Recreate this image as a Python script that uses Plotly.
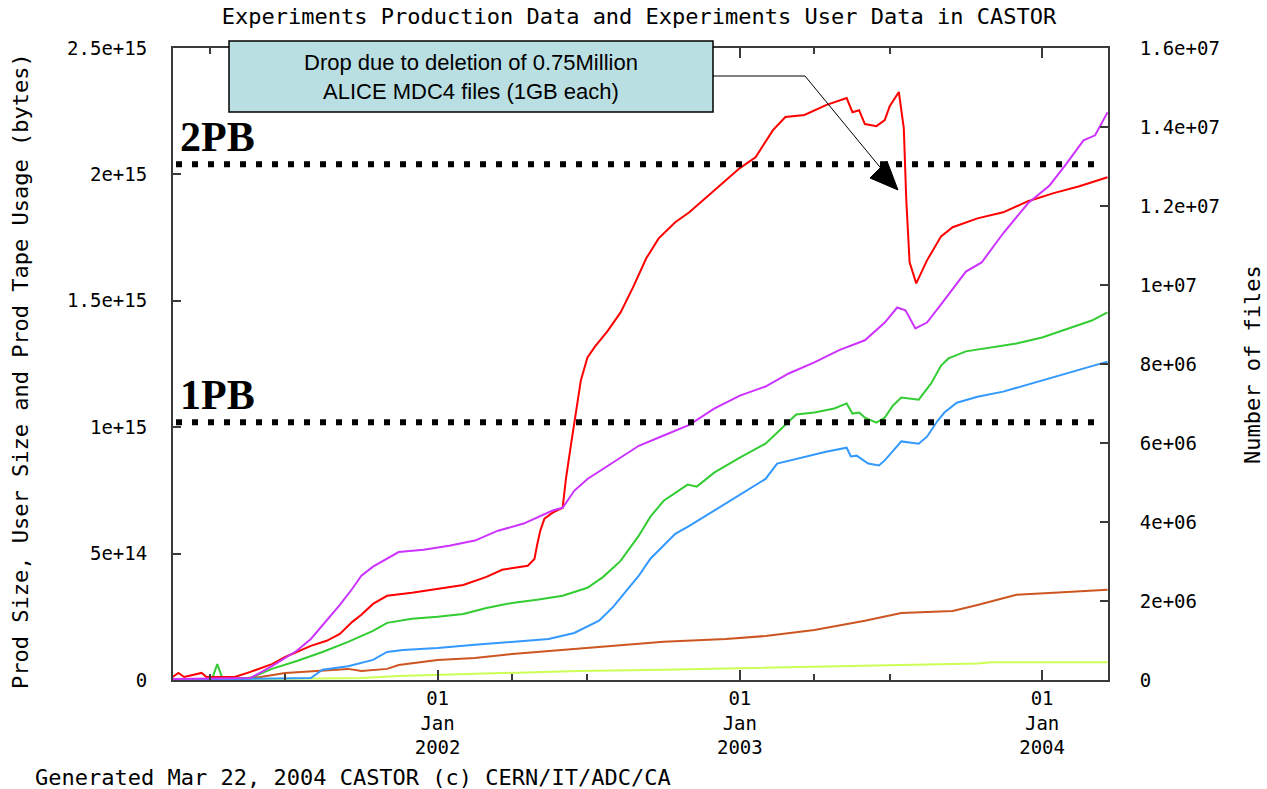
import plotly.graph_objects as go

# ---------------- data ----------------
# Left axis series (bytes)
red_dates = ["2001-02-15","2001-02-22","2001-03-01","2001-03-22","2001-03-28","2001-05-01","2001-05-20","2001-06-15",
             "2001-07-01","2001-07-15","2001-08-01","2001-08-20","2001-09-05","2001-09-20","2001-10-01","2001-10-15",
             "2001-11-01","2001-12-01","2002-01-01","2002-02-01","2002-03-01","2002-03-20","2002-04-20","2002-04-28",
             "2002-05-01","2002-05-05","2002-05-10","2002-05-20","2002-06-01","2002-06-05","2002-06-10","2002-06-14",
             "2002-06-19","2002-06-23","2002-07-01","2002-07-10","2002-07-25","2002-08-10","2002-08-25","2002-09-10",
             "2002-09-25","2002-10-15","2002-11-01","2002-12-01","2003-01-01","2003-01-20","2003-02-10","2003-02-25",
             "2003-03-20","2003-04-15","2003-05-10","2003-05-17","2003-05-25","2003-06-01","2003-06-15","2003-06-25",
             "2003-07-01","2003-07-12","2003-07-18","2003-07-21","2003-07-25","2003-08-02","2003-08-15","2003-09-01",
             "2003-09-15","2003-10-15","2003-11-15","2003-12-15","2004-01-15","2004-02-15","2004-03-20"]
red_bytes = [0.12e14,0.28e14,0.12e14,0.28e14,0.12e14,0.12e14,0.32e14,0.63e14,
             0.91e14,1.11e14,1.35e14,1.55e14,1.82e14,2.30e14,2.58e14,3.01e14,
             3.33e14,3.45e14,3.61e14,3.76e14,4.08e14,4.36e14,4.52e14,4.79e14,
             5.31e14,5.90e14,6.38e14,6.62e14,6.81e14,7.96e14,9.07e14,9.94e14,
             11.17e14,11.85e14,12.76e14,13.19e14,13.79e14,14.54e14,15.53e14,16.68e14,
             17.47e14,18.11e14,18.50e14,19.37e14,20.25e14,20.68e14,21.75e14,22.27e14,
             22.35e14,22.74e14,23.02e14,22.46e14,22.54e14,21.99e14,21.91e14,22.15e14,
             22.70e14,23.26e14,21.83e14,18.98e14,16.52e14,15.69e14,16.60e14,17.55e14,
             17.91e14,18.26e14,18.50e14,18.94e14,19.26e14,19.53e14,19.89e14]

green_dates = ["2001-02-15","2001-03-25","2001-04-04","2001-04-10","2001-04-16","2001-05-20","2001-06-15","2001-07-15",
               "2001-08-15","2001-09-15","2001-10-15","2001-11-01","2001-12-01","2002-01-01","2002-02-01","2002-03-01",
               "2002-04-01","2002-05-01","2002-06-01","2002-07-01","2002-07-20","2002-08-10","2002-09-01","2002-09-15",
               "2002-10-01","2002-10-20","2002-10-30","2002-11-10","2002-12-01","2003-01-01","2003-02-01","2003-02-20",
               "2003-03-10","2003-04-01","2003-04-25","2003-05-10","2003-05-17","2003-05-25","2003-06-01","2003-06-15",
               "2003-06-25","2003-07-05","2003-07-15","2003-08-05","2003-08-20","2003-09-01","2003-09-10","2003-10-01",
               "2003-11-01","2003-12-01","2004-01-01","2004-02-01","2004-03-01","2004-03-20"]
green_bytes = [0.04e14,0.04e14,0.08e14,0.63e14,0.08e14,0.08e14,0.44e14,0.75e14,
               1.11e14,1.51e14,1.94e14,2.26e14,2.42e14,2.50e14,2.61e14,2.85e14,
               3.05e14,3.17e14,3.33e14,3.65e14,4.08e14,4.71e14,5.71e14,6.46e14,
               7.09e14,7.49e14,7.73e14,7.65e14,8.20e14,8.80e14,9.35e14,9.94e14,
               10.50e14,10.58e14,10.74e14,10.94e14,10.54e14,10.58e14,10.38e14,10.18e14,
               10.38e14,10.86e14,11.17e14,11.09e14,11.73e14,12.44e14,12.72e14,13.00e14,
               13.15e14,13.31e14,13.55e14,13.91e14,14.22e14,14.54e14]

brown_dates = ["2001-02-15","2001-05-01","2001-06-01","2001-07-01","2001-09-15","2001-10-01","2001-11-01","2001-11-15",
               "2002-01-01","2002-02-15","2002-04-01","2002-06-01","2002-08-01","2002-10-01","2002-12-15","2003-02-01",
               "2003-04-01","2003-06-01","2003-07-15","2003-09-15","2003-10-15","2003-12-01","2004-01-15","2004-03-20"]
brown_bytes = [0.0,0.04e14,0.12e14,0.28e14,0.44e14,0.36e14,0.44e14,0.59e14,
               0.79e14,0.87e14,1.03e14,1.19e14,1.35e14,1.51e14,1.62e14,1.74e14,
               1.98e14,2.34e14,2.65e14,2.73e14,2.97e14,3.37e14,3.45e14,3.57e14]

# Right axis series (number of files)
magenta_dates = ["2001-02-15","2001-05-20","2001-06-15","2001-07-15","2001-08-01","2001-08-20","2001-09-05","2001-09-20",
                 "2001-10-01","2001-10-15","2001-11-01","2001-11-15","2001-12-15","2002-01-15","2002-02-15","2002-03-15",
                 "2002-04-15","2002-05-01","2002-05-20","2002-06-01","2002-06-15","2002-07-01","2002-08-01","2002-09-01",
                 "2002-10-01","2002-11-01","2002-12-01","2003-01-01","2003-02-01","2003-03-01","2003-04-01","2003-05-01",
                 "2003-06-01","2003-06-25","2003-07-10","2003-07-20","2003-08-01","2003-08-15","2003-09-01","2003-09-15",
                 "2003-10-01","2003-10-20","2003-11-15","2003-12-15","2004-01-10","2004-01-30","2004-02-20","2004-03-05",
                 "2004-03-20"]
magenta_files = [0.026e6,0.05e6,0.35e6,0.74e6,1.04e6,1.50e6,1.90e6,2.31e6,
                 2.64e6,2.87e6,3.07e6,3.24e6,3.30e6,3.40e6,3.53e6,3.78e6,
                 3.96e6,4.11e6,4.29e6,4.36e6,4.79e6,5.09e6,5.50e6,5.93e6,
                 6.19e6,6.46e6,6.87e6,7.20e6,7.43e6,7.76e6,8.04e6,8.35e6,
                 8.60e6,9.05e6,9.43e6,9.36e6,8.90e6,9.05e6,9.51e6,9.91e6,
                 10.34e6,10.57e6,11.31e6,12.07e6,12.52e6,13.06e6,13.66e6,13.79e6,
                 14.37e6]

blue_dates = ["2001-02-15","2001-08-01","2001-08-15","2001-09-15","2001-10-15","2001-11-01","2001-11-20","2002-01-01",
              "2002-02-15","2002-04-01","2002-05-15","2002-06-15","2002-07-15","2002-08-01","2002-08-15","2002-09-01",
              "2002-09-15","2002-10-01","2002-10-15","2002-11-01","2002-12-01","2003-01-01","2003-02-01","2003-02-15",
              "2003-03-15","2003-04-15","2003-05-10","2003-05-15","2003-05-22","2003-06-05","2003-06-18","2003-06-25",
              "2003-07-05","2003-07-15","2003-08-05","2003-08-15","2003-08-28","2003-09-05","2003-09-20","2003-10-15",
              "2003-11-15","2003-12-15","2004-01-15","2004-02-15","2004-03-20"]
blue_files = [0.0,0.05e6,0.26e6,0.35e6,0.51e6,0.71e6,0.76e6,0.81e6,
              0.89e6,0.97e6,1.04e6,1.19e6,1.50e6,1.85e6,2.21e6,2.64e6,
              3.07e6,3.40e6,3.70e6,3.90e6,4.29e6,4.69e6,5.09e6,5.48e6,
              5.63e6,5.78e6,5.88e6,5.66e6,5.68e6,5.48e6,5.43e6,5.56e6,
              5.80e6,6.04e6,5.98e6,6.16e6,6.57e6,6.77e6,7.02e6,7.17e6,
              7.30e6,7.48e6,7.66e6,7.86e6,8.06e6]

yg_dates = ["2001-02-15","2001-05-15","2001-10-01","2001-11-15","2002-02-15","2002-06-20","2002-10-01","2002-12-15",
            "2003-03-15","2003-07-15","2003-10-15","2003-11-01","2004-03-20"]
yg_files = [0.0,0.013e6,0.05e6,0.10e6,0.15e6,0.23e6,0.26e6,0.29e6,0.33e6,0.38e6,0.42e6,0.45e6,0.45e6]

# reference levels
pb_levels = [2.04e15, 1.02e15]
pb_labels = ["2PB", "1PB"]

# axis ticks
x_range = ["2001-02-15 12:00", "2004-03-20 14:00"]
x_major = ["2002-01-01", "2003-01-01", "2004-01-01"]
x_major_text = ["01<br>Jan<br>2002", "01<br>Jan<br>2003", "01<br>Jan<br>2004"]
x_minor = ["2001-04-01", "2001-07-01", "2002-04-01", "2002-07-01", "2003-04-01", "2003-07-01"]
y_left_vals = [0, 5e14, 1e15, 1.5e15, 2e15, 2.5e15]
y_left_text = ["0", "5e+14", "1e+15", "1.5e+15", "2e+15", "2.5e+15"]
y_right_vals = [0, 2e6, 4e6, 6e6, 8e6, 1e7, 1.2e7, 1.4e7, 1.6e7]
y_right_text = ["0", "2e+06", "4e+06", "6e+06", "8e+06", "1e+07", "1.2e+07", "1.4e+07", "1.6e+07"]

title_text = "Experiments Production Data and Experiments User Data in CASTOR"
left_title = "Prod Size, User Size and Prod Tape Usage (bytes)"
right_title = "Number of files"
footer_text = "Generated Mar 22, 2004 CASTOR (c) CERN/IT/ADC/CA"
note_text = "Drop due to deletion of 0.75Million<br>ALICE MDC4 files (1GB each)"

# ---------------- figure ----------------
W, H = 1267, 789
L, R, T, B = 173, 159, 48, 109
PW, PH = W - L - R, H - T - B


def px(xp):
    return (xp - L) / PW


def py(yp):
    return (H - B - yp) / PH


MONO = "DejaVu Sans Mono"
AXC = "#3a3a3a"

fig = go.Figure()
series = [
    (yg_dates, yg_files, "#CCFF55", "y2"),
    (brown_dates, brown_bytes, "#CC5522", "y"),
    (blue_dates, blue_files, "#3399FF", "y2"),
    (green_dates, green_bytes, "#33CC33", "y"),
    (red_dates, red_bytes, "#FF0000", "y"),
    (magenta_dates, magenta_files, "#CC33FF", "y2"),
]
for d, v, c, ax in series:
    fig.add_trace(go.Scatter(x=d, y=v, mode="lines", yaxis=ax,
                             line=dict(color=c, width=2), hoverinfo="skip"))

fig.update_layout(
    width=W, height=H, margin=dict(l=L, r=R, t=T, b=B),
    paper_bgcolor="white", plot_bgcolor="white", showlegend=False,
    title=dict(text=title_text, x=639 / W, y=1 - 16 / H, xref="container", yref="container",
               xanchor="center", yanchor="middle", font=dict(family=MONO, size=22, color="black")),
    xaxis=dict(type="date", range=x_range, tickvals=x_major, ticktext=x_major_text,
               ticks="inside", ticklen=10, tickwidth=2, tickcolor=AXC,
               showline=True, linewidth=2, linecolor=AXC, mirror="ticks",
               showgrid=False, zeroline=False, ticklabelstandoff=0,
               tickfont=dict(family=MONO, size=19, color="black"),
               minor=dict(tickvals=x_minor, ticks="inside", ticklen=6, tickwidth=2, tickcolor=AXC, showgrid=False)),
    yaxis=dict(range=[0, 2.5e15], tickvals=y_left_vals, ticktext=y_left_text,
               ticks="inside", ticklen=8, tickwidth=2, tickcolor=AXC,
               showline=True, linewidth=2, linecolor=AXC, mirror=True,
               showgrid=False, zeroline=False, ticklabelstandoff=20,
               tickfont=dict(family=MONO, size=19, color="black")),
    yaxis2=dict(range=[0, 1.6e7], tickvals=y_right_vals, ticktext=y_right_text,
                overlaying="y", side="right",
                ticks="inside", ticklen=8, tickwidth=2, tickcolor=AXC,
                showline=True, linewidth=2, linecolor=AXC,
                showgrid=False, zeroline=False, ticklabelstandoff=26,
                tickfont=dict(family=MONO, size=19, color="black")),
)

# PB reference dotted lines and labels
for lvl, lab in zip(pb_levels, pb_labels):
    fig.add_shape(type="line", xref="paper", yref="y", x0=px(176), x1=px(1102), y0=lvl, y1=lvl,
                  line=dict(color="black", width=6, dash="6px,10px"), layer="above")
    fig.add_annotation(xref="paper", yref="y", x=px(178), y=lvl, xanchor="left", yanchor="bottom",
                       yshift=2, showarrow=False, text="<b>" + lab + "</b>",
                       font=dict(family="Liberation Serif", size=42, color="black"))

# Note box, connector and arrowhead
fig.add_shape(type="rect", xref="paper", yref="paper", x0=px(229), x1=px(713), y0=py(112), y1=py(41),
              fillcolor="#BADFE2", line=dict(color="black", width=1.5), layer="above")
fig.add_annotation(xref="paper", yref="paper", x=px(471), y=py(76.5), xanchor="center", yanchor="middle",
                   showarrow=False, text=note_text,
                   font=dict(family="Liberation Sans", size=22, color="black"))
fig.add_shape(type="line", xref="paper", yref="paper", x0=px(713), x1=px(805), y0=py(76), y1=py(76),
              line=dict(color="black", width=1), layer="above")
fig.add_shape(type="line", xref="paper", yref="paper", x0=px(805), x1=px(884), y0=py(76), y1=py(172),
              line=dict(color="black", width=1), layer="above")
fig.add_shape(type="path", xref="paper", yref="paper",
              path="M {:.5f},{:.5f} L {:.5f},{:.5f} L {:.5f},{:.5f} Z".format(px(870), py(178), px(887), py(161), px(898), py(190)),
              fillcolor="black", line=dict(color="black", width=1), layer="above")

# axis titles and footer
fig.add_annotation(xref="paper", yref="paper", x=px(20), y=py(371), textangle=-90, showarrow=False,
                   text=left_title, xanchor="center", yanchor="middle",
                   font=dict(family=MONO, size=22, color="black"))
fig.add_annotation(xref="paper", yref="paper", x=px(1252), y=py(365), textangle=-90, showarrow=False,
                   text=right_title, xanchor="center", yanchor="middle",
                   font=dict(family=MONO, size=22, color="black"))
fig.add_annotation(xref="paper", yref="paper", x=px(33), y=py(777), showarrow=False,
                   text=footer_text, xanchor="left", yanchor="middle",
                   font=dict(family=MONO, size=22, color="black"))

fig.write_html("out.html", config={"displayModeBar": False},
               post_script="document.body.style.margin='0px';")
